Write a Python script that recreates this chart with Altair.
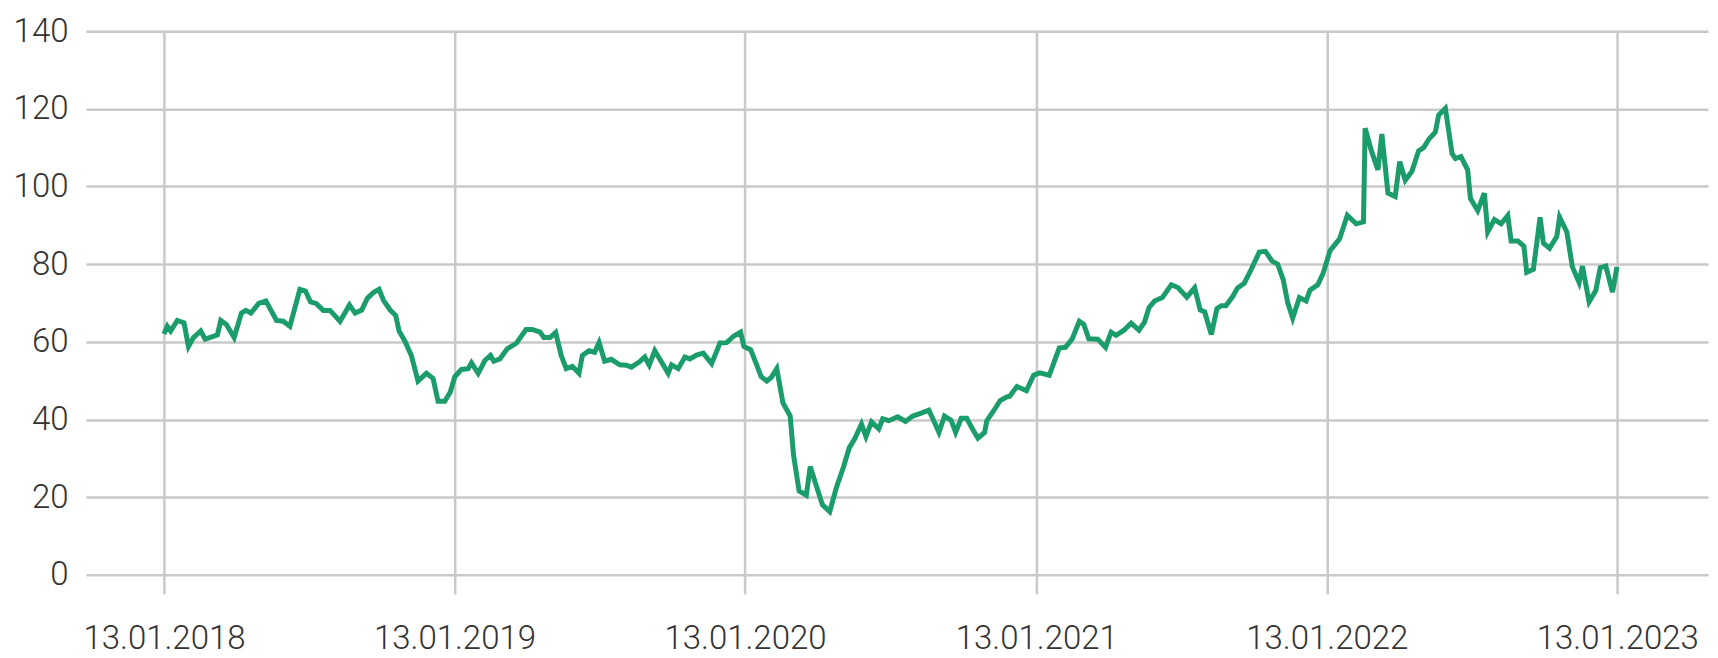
import altair as alt
import numpy as np
import pandas as pd

START = "2018-01-13"

weeks = [
    0.0, 0.6, 1.2, 2.4, 3.6, 4.4, 5.3, 6.6, 7.4, 8.6, 9.6, 10.2, 11.2, 12.6, 13.9, 14.7, 15.6,
    17.0, 18.3, 20.2, 21.4, 22.6, 24.4, 25.4, 26.3, 27.3, 28.6, 29.8, 31.6, 33.3, 34.3, 35.5,
    36.5, 37.6, 38.6, 39.4, 40.6, 41.6, 42.2, 43.2, 44.4, 45.6, 47.1, 48.3, 49.2, 50.4, 51.4,
    52.2, 53.4, 54.6, 55.2, 56.4, 57.6, 58.6, 59.2, 60.3, 61.6, 63.3, 65.0, 66.1, 67.5, 68.2,
    69.3, 70.3, 71.3, 72.2, 73.3, 74.5, 75.1, 76.3, 77.3, 78.1, 79.1, 80.3, 81.8, 83.0, 83.9,
    85.3, 86.3, 87.1, 88.1, 89.3, 90.5, 91.1, 92.3, 93.5, 94.4, 95.6, 96.8, 98.3, 99.8, 101.0,
    102.3, 103.5, 104.1, 105.3, 106.3, 107.2, 108.2, 109.0, 110.0, 111.1, 112.4, 113.0, 114.0,
    115.3, 116.0, 117.1, 118.2, 119.5, 120.7, 122.0, 123.0, 124.0, 125.2, 126.0, 127.0, 128.3,
    129.0, 130.1, 131.7, 133.1, 134.4, 135.7, 137.3, 138.3, 139.1, 140.1, 141.3, 142.1, 143.1,
    144.1, 145.1, 146.1, 147.3, 147.7, 148.9, 150.1, 151.2, 151.8, 153.1, 154.8, 156.1, 157.2,
    158.9, 160.7, 161.8, 163.0, 164.3, 165.1, 166.0, 167.6, 169.0, 170.0, 170.9, 172.3, 173.6,
    175.0, 176.0, 176.8, 177.8, 179.2, 180.8, 182.0, 183.6, 185.0, 186.0, 186.8, 188.0, 189.0,
    189.8, 190.6, 191.8, 192.7, 193.9, 195.1, 196.6, 197.7, 198.9, 199.9, 200.9, 201.7, 202.6,
    203.8, 205.0, 205.7, 207.1, 208.1, 209.3, 211.0, 212.4, 214.0, 215.3, 215.6, 216.7, 217.9,
    218.6, 219.7, 221.0, 221.8, 222.8, 224.0, 225.2, 226.1, 227.1, 228.2, 228.8, 230.0, 231.2,
    231.8, 232.8, 234.0, 234.5, 235.8, 237.0, 237.6, 238.8, 240.0, 241.2, 241.8, 243.0, 244.1,
    244.6, 245.8, 247.0, 247.6, 248.7, 250.0, 250.5, 251.8, 252.8, 254.0, 254.6, 255.8, 257.0,
    257.8, 258.8, 260.0, 260.8,
]

values = [
    62.0, 64.0, 62.8, 65.5, 64.9, 58.8, 61.1, 62.8, 60.7, 61.3, 61.8, 65.5, 64.5, 61.1, 67.4, 68.1, 67.4,
    69.9, 70.5, 65.5, 65.3, 64.0, 73.5, 73.1, 70.3, 69.9, 68.1, 68.1, 65.3, 69.5, 67.4, 68.2,
    71.2, 72.7, 73.5, 70.7, 68.2, 66.8, 62.8, 60.3, 56.5, 49.9, 51.9, 50.6, 44.7, 44.7, 47.1,
    51.0, 52.9, 53.1, 54.6, 51.9, 55.2, 56.5, 55.0, 55.6, 58.2, 59.7, 63.2, 63.2, 62.5, 61.1,
    61.1, 62.4, 56.5, 53.1, 53.7, 51.9, 56.5, 57.7, 57.3, 59.8, 55.0, 55.5, 54.1, 54.0, 53.5,
    54.8, 56.1, 54.0, 57.7, 54.8, 51.9, 54.1, 53.1, 56.1, 55.6, 56.6, 57.1, 54.4, 59.7, 59.8,
    61.5, 62.5, 58.8, 58.0, 54.4, 51.0, 49.9, 50.8, 53.1, 44.3, 40.9, 30.9, 21.6,
    20.5, 27.9, 22.9, 18.0, 16.3, 22.5, 27.9, 32.7, 35.1, 38.8, 35.6, 39.4, 37.6,
    40.2, 39.7, 40.7, 39.5, 40.9, 41.5, 42.4, 39.3, 36.7, 40.9, 39.8, 36.7, 40.3,
    40.3, 37.6, 35.2, 36.7, 39.7, 42.2, 44.9, 45.8, 46.0, 48.5, 47.4, 51.4, 52.0,
    51.4, 58.4, 58.6, 60.7, 65.3, 64.5, 60.8, 60.7, 58.6, 62.5, 61.7, 63.0, 64.8,
    63.0, 65.1, 68.8, 70.5, 71.4, 74.7, 74.0, 71.5, 73.9, 68.2, 67.7, 61.9, 68.6,
    69.3, 69.3, 71.6, 73.9, 75.1, 78.5, 83.1, 83.3, 80.8, 80.0, 76.0, 70.1, 66.1,
    71.4, 70.5, 73.3, 74.7, 77.8, 83.5, 86.5, 92.6, 90.4, 90.9, 115.0, 109.3, 104.3,
    113.5, 98.3, 97.4, 106.4, 101.6, 103.9, 109.2, 110.0, 112.3, 114.0, 118.4, 120.1, 108.5,
    107.2, 107.7, 104.3, 96.9, 93.8, 98.3, 88.3, 91.5, 90.4, 92.5, 86.0, 86.0, 84.6,
    77.9, 78.7, 92.1, 85.4, 84.1, 87.1, 92.1, 88.3, 79.3, 75.3, 79.5, 70.3, 73.2,
    79.1, 79.5, 72.8, 79.3,
]

tick_years = [2018, 2019, 2020, 2021, 2022, 2023]
y_ticks = [0, 20, 40, 60, 80, 100, 120, 140]

dates = pd.Timestamp(START) + pd.to_timedelta(np.array(weeks) * 7, unit="D")
t_ms = ((dates - pd.Timestamp("1970-01-01")) // pd.Timedelta(milliseconds=1)).astype("int64")
df = pd.DataFrame({"t": t_ms, "v": values})

GRID = "#c9c9c9"
TEXT = "#333333"
FONT = "Roboto"
FS = 33

x_axis = alt.Axis(
    values=[alt.DateTime(year=y, month=1, date=13, utc=True) for y in tick_years],
    format="%d.%m.%Y",
    grid=True, gridColor=GRID, gridWidth=2.5,
    ticks=True, tickSize=19, tickColor=GRID, tickWidth=2.5,
    domain=False, title=None,
    labelFont=FONT, labelFontSize=FS, labelFontWeight=300, labelColor=TEXT,
    labelPadding=29, labelFlush=False, labelOverlap=False,
)
y_axis = alt.Axis(
    values=y_ticks,
    grid=True, gridColor=GRID, gridWidth=2.5,
    ticks=False, domain=False, title=None,
    labelFont=FONT, labelFontSize=FS, labelFontWeight=300, labelColor=TEXT,
    labelPadding=18,
)

chart = (
    alt.Chart(df)
    .mark_line(color="#1a9c6b", strokeWidth=5)
    .encode(
        x=alt.X(
            "t:T",
            scale=alt.Scale(
                type="utc",
                domain=[
                    alt.DateTime(year=2017, month=10, date=7, utc=True),
                    alt.DateTime(year=2023, month=5, date=7, utc=True),
                ],
            ),
            axis=x_axis,
        ),
        y=alt.Y("v:Q", scale=alt.Scale(domain=[0, 140], nice=False), axis=y_axis),
    )
    .properties(
        width=1623,
        height=544,
        autosize=alt.AutoSizeParams(type="none"),
        padding={"left": 78, "top": 23, "right": 2, "bottom": 83},
    )
    .configure_view(stroke=None)
)

chart.save("out.html", embed_options={"renderer": "svg", "actions": False})
